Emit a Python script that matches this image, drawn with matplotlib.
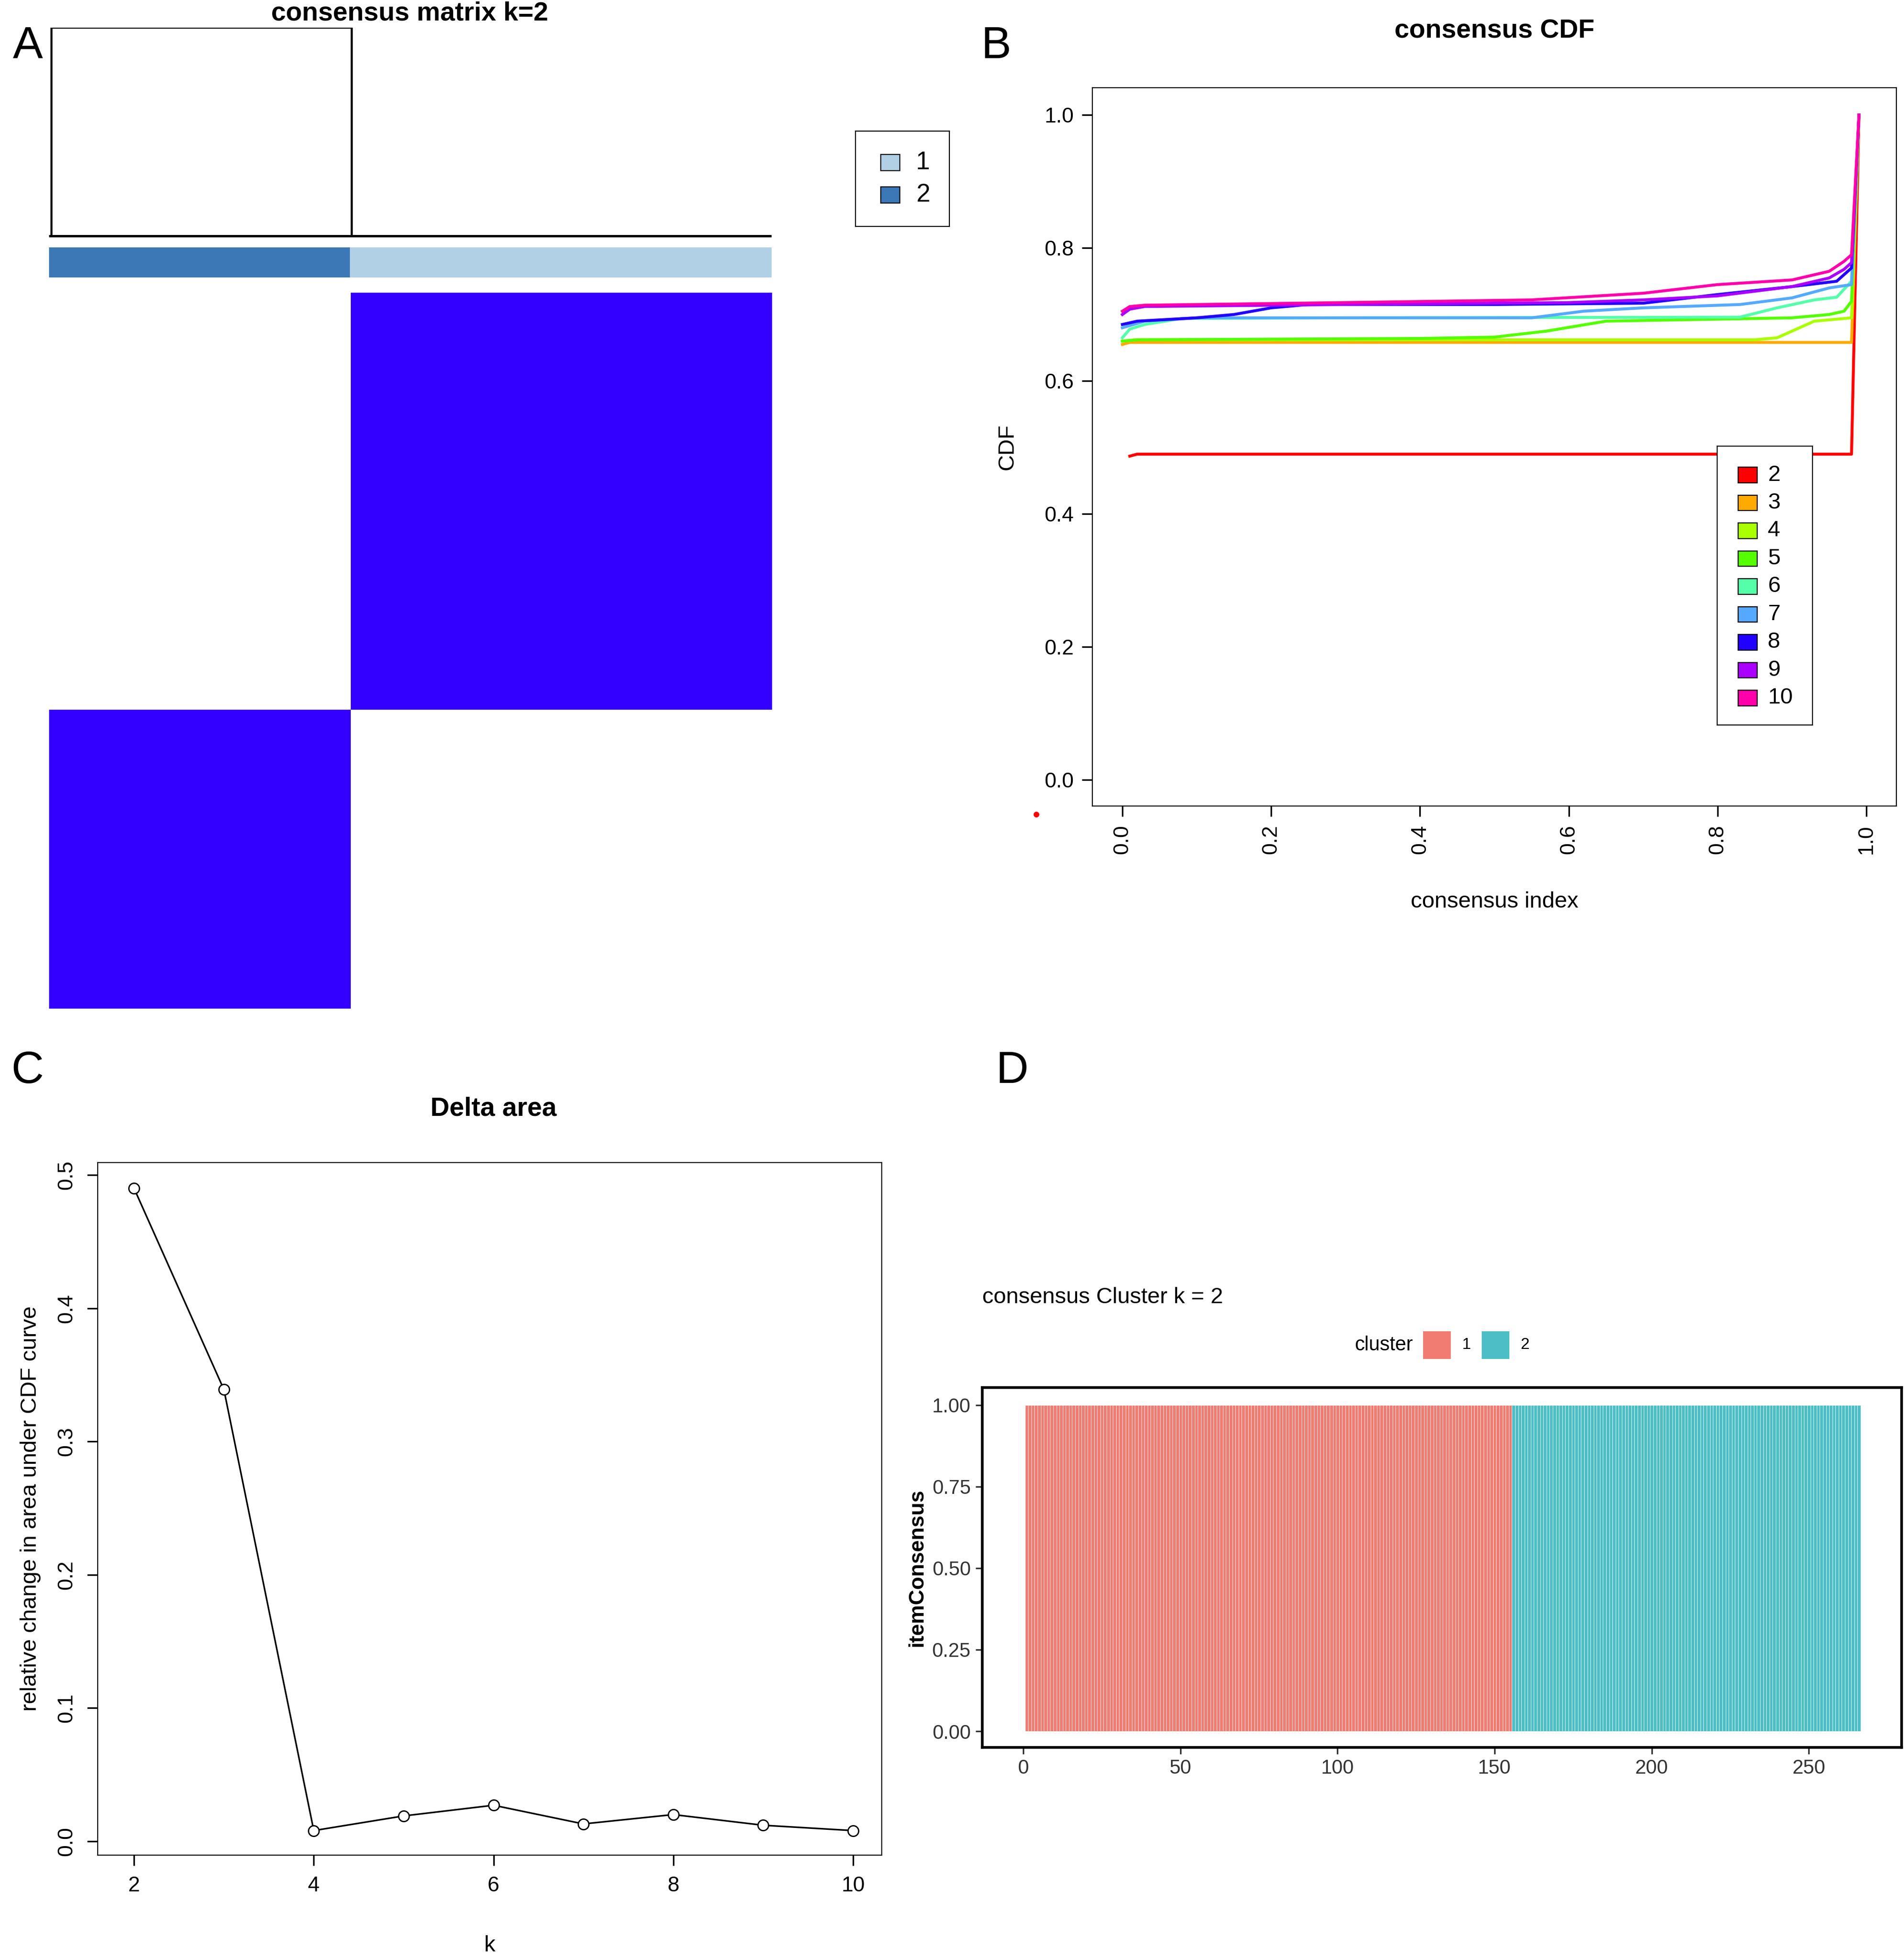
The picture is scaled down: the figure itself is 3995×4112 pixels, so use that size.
import numpy as np
import matplotlib
matplotlib.use("Agg")
import matplotlib.pyplot as plt
from matplotlib.colors import ListedColormap
from matplotlib.patches import Rectangle

plt.rcParams['font.family'] = ['Liberation Sans', 'DejaVu Sans']

# ---------------- data ----------------
n_cluster1 = 155
n_cluster2 = 111
k_values = [2, 3, 4, 5, 6, 7, 8, 9, 10]
delta_area = [0.490, 0.339, 0.008, 0.019, 0.027, 0.013, 0.020, 0.012, 0.008]
cdf_colors = ['#FF0000', '#FFAA00', '#AAFF00', '#55FF00', '#55FFAA', '#55AAFF', '#2200FF', '#AA00FF', '#FF00AA']
cdf_x = {
    2: [0.01, 0.02, 0.98, 0.99],
    3: [0.0, 0.01, 0.98, 0.99],
    4: [0.0, 0.02, 0.85, 0.88, 0.91, 0.93, 0.98, 0.99],
    5: [0.0, 0.02, 0.4, 0.5, 0.57, 0.65, 0.9, 0.95, 0.97, 0.98, 0.99],
    6: [0.0, 0.01, 0.03, 0.08, 0.3, 0.83, 0.88, 0.93, 0.96, 0.98, 0.99],
    7: [0.0, 0.03, 0.1, 0.55, 0.62, 0.7, 0.83, 0.9, 0.95, 0.98, 0.99],
    8: [0.0, 0.02, 0.1, 0.15, 0.2, 0.25, 0.5, 0.7, 0.8, 0.9, 0.96, 0.98, 0.99],
    9: [0.0, 0.01, 0.03, 0.3, 0.6, 0.7, 0.8, 0.9, 0.95, 0.97, 0.98, 0.99],
    10: [0.0, 0.01, 0.03, 0.3, 0.55, 0.7, 0.8, 0.9, 0.95, 0.97, 0.98, 0.99],
}
cdf_y = {
    2: [0.487, 0.49, 0.49, 1.0],
    3: [0.655, 0.658, 0.658, 1.0],
    4: [0.66, 0.662, 0.662, 0.665, 0.68, 0.69, 0.695, 1.0],
    5: [0.66, 0.662, 0.664, 0.666, 0.675, 0.69, 0.695, 0.70, 0.705, 0.72, 1.0],
    6: [0.665, 0.678, 0.685, 0.694, 0.695, 0.696, 0.71, 0.722, 0.726, 0.75, 1.0],
    7: [0.68, 0.69, 0.695, 0.695, 0.705, 0.71, 0.715, 0.725, 0.74, 0.745, 1.0],
    8: [0.685, 0.69, 0.695, 0.70, 0.71, 0.715, 0.715, 0.717, 0.73, 0.742, 0.75, 0.77, 1.0],
    9: [0.70, 0.708, 0.712, 0.715, 0.718, 0.722, 0.728, 0.742, 0.755, 0.768, 0.778, 1.0],
    10: [0.705, 0.712, 0.714, 0.718, 0.722, 0.732, 0.745, 0.752, 0.765, 0.78, 0.79, 1.0],
}
cluster_labels = ['1', '2']
ann_colors = {'1': '#B1D0E6', '2': '#3C77B6'}
gg_colors = ['#F07C72', '#4DBEC5']

W, H = 1520.0, 1568.0
def rect(x0, y0, x1, y1):
    return [x0 / W, 1 - y1 / H, (x1 - x0) / W, (y1 - y0) / H]
def fx(x): return x / W
def fy(y): return 1 - y / H

fig = plt.figure(figsize=(19.975, 20.56), dpi=200)

# ---------------- Panel A ----------------
ax_hm = fig.add_axes(rect(39, 234, 616, 807))
rows = np.array([1] * n_cluster1 + [2] * n_cluster2)
cols = np.array([2] * n_cluster2 + [1] * n_cluster1)
M = (rows[:, None] == cols[None, :]).astype(float)
ax_hm.imshow(M, cmap=ListedColormap(['white', '#3300FF']), aspect='auto', interpolation='nearest')
ax_hm.axis('off')

ax_bar = fig.add_axes(rect(39, 198, 616, 222))
ax_bar.add_patch(Rectangle((0, 0), n_cluster2, 1, color=ann_colors['2']))
ax_bar.add_patch(Rectangle((n_cluster2, 0), n_cluster1, 1, color=ann_colors['1']))
ax_bar.set_xlim(0, n_cluster1 + n_cluster2); ax_bar.set_ylim(0, 1)
ax_bar.axis('off')

ax_den = fig.add_axes(rect(39, 22, 616, 192))
N = n_cluster1 + n_cluster2
ax_den.plot([1, 1, n_cluster2 + 0.5, n_cluster2 + 0.5], [0.02, 1, 1, 0.02], color='black', lw=1.6)
ax_den.plot([0.5, N], [0.02, 0.02], color='black', lw=1.8)
ax_den.set_xlim(0, N); ax_den.set_ylim(0, 1.0)
ax_den.axis('off')
fig.text(fx(327), fy(11), 'consensus matrix k=2', ha='center', va='center', fontsize=20, fontweight='bold')

ax_lg = fig.add_axes(rect(683, 105, 758, 181))
ax_lg.set_xlim(0, 1); ax_lg.set_ylim(0, 1)
ax_lg.set_xticks([]); ax_lg.set_yticks([])
for i, lab in enumerate(cluster_labels):
    yy = 0.67 - i * 0.34
    ax_lg.add_patch(Rectangle((0.27, yy - 0.085), 0.2, 0.17, facecolor=ann_colors[lab], edgecolor='black', lw=0.8))
    ax_lg.text(0.72, yy, lab, ha='center', va='center', fontsize=19)

# ---------------- Panel B ----------------
axB = fig.add_axes(rect(872, 70, 1514, 645))
xpp = (1490 - 896); ypp = (624 - 92)
axB.set_xlim(-(896 - 872) / xpp, 1 + (1514 - 1490) / xpp)
axB.set_ylim(-(645 - 624) / ypp, 1 + (92 - 70) / ypp)
for k, c in zip(k_values, cdf_colors):
    axB.plot(cdf_x[k], cdf_y[k], color=c, lw=2.2, label=str(k))
axB.set_xticks([0, 0.2, 0.4, 0.6, 0.8, 1.0])
axB.set_xticklabels(['0.0', '0.2', '0.4', '0.6', '0.8', '1.0'])
axB.set_yticks([0, 0.2, 0.4, 0.6, 0.8, 1.0])
axB.set_yticklabels(['0.0', '0.2', '0.4', '0.6', '0.8', '1.0'])
axB.tick_params(labelsize=16, length=8, width=1.2, pad=6)
axB.tick_params(axis='x', labelrotation=90)
axB.set_xlabel('consensus index', fontsize=17, labelpad=28)
axB.set_ylabel('CDF', fontsize=17, labelpad=20)
fig.text(fx(1193), fy(25), 'consensus CDF', ha='center', va='center', fontsize=20, fontweight='bold')
lgB = fig.add_axes(rect(1371, 357, 1447, 580))
lgB.set_xlim(0, 1); lgB.set_ylim(0, 1); lgB.set_xticks([]); lgB.set_yticks([])
for i, (k, c) in enumerate(zip(k_values, cdf_colors)):
    yy = 1 - (380 - 357 + i * 22.3) / (580 - 357)
    lgB.add_patch(Rectangle((0.22, yy - 0.028), 0.2, 0.056, facecolor=c, edgecolor='black', lw=0.8))
    lgB.text(0.53, yy, str(k), ha='left', va='center', fontsize=17)
fig.text(fx(827), fy(653), '•', color='red', ha='center', va='center', fontsize=16)

# ---------------- Panel C ----------------
axC = fig.add_axes(rect(78, 930, 704, 1484))
xpp = (681 - 107) / 8.0; ypp = (1473 - 940) / 0.5
axC.set_xlim(2 - (107 - 78) / xpp, 10 + (704 - 681) / xpp)
axC.set_ylim(-(1484 - 1473) / ypp, 0.5 + (940 - 930) / ypp)
axC.plot(k_values, delta_area, color='black', lw=1.2, marker='o', markersize=8,
         markerfacecolor='white', markeredgecolor='black', markeredgewidth=1.0)
axC.set_xticks([2, 4, 6, 8, 10])
axC.set_yticks([0, 0.1, 0.2, 0.3, 0.4, 0.5])
axC.set_yticklabels(['0.0', '0.1', '0.2', '0.3', '0.4', '0.5'], rotation=90, va='center')
axC.tick_params(labelsize=16, length=8, width=1.2, pad=8)
axC.set_xlabel('k', fontsize=17, labelpad=30)
axC.set_ylabel('relative change in area under CDF curve', fontsize=17, labelpad=12)
fig.text(fx(394), fy(887), 'Delta area', ha='center', va='center', fontsize=20, fontweight='bold')

# ---------------- Panel D ----------------
axD = fig.add_axes(rect(784, 1110, 1518, 1398))
assign = [1] * n_cluster1 + [2] * n_cluster2
consensus = [1.0] * N
idx = np.arange(1, N + 1)
for cl, col in zip([1, 2], gg_colors):
    sel = [i for i, a in enumerate(assign) if a == cl]
    axD.bar(idx[sel], [consensus[i] for i in sel], width=1.0, color=col,
            edgecolor='white', linewidth=0.25)
xpp = (1444 - 817) / 250.0
axD.set_xlim(-(817 - 784) / xpp, 250 + (1518 - 1444) / xpp)
ypp = (1385 - 1124) / 1.0
axD.set_ylim(-(1398 - 1385) / ypp, 1 + (1124 - 1110) / ypp)
axD.set_xticks([0, 50, 100, 150, 200, 250])
axD.set_yticks([0, 0.25, 0.5, 0.75, 1.0])
axD.set_yticklabels(['0.00', '0.25', '0.50', '0.75', '1.00'])
axD.tick_params(labelsize=15, length=5, width=1.2, colors='#333333', labelcolor='#333333')
for s in axD.spines.values():
    s.set_linewidth(2.0)
axD.set_ylabel('itemConsensus', fontsize=16, fontweight='bold', labelpad=4)
fig.text(fx(784), fy(1038), 'consensus Cluster k = 2', ha='left', va='center', fontsize=17)
fig.text(fx(1128), fy(1076), 'cluster', ha='right', va='center', fontsize=15)
for i, (lab, col) in enumerate(zip(cluster_labels, gg_colors)):
    x0 = 1136 + i * 47
    fig.patches.append(Rectangle((fx(x0), fy(1087)), 22 / W, 22 / H, transform=fig.transFigure,
                                 facecolor=col, edgecolor='none'))
    fig.text(fx(x0 + 31), fy(1076), lab, ha='left', va='center', fontsize=12)

# ---------------- panel letters ----------------
for lab, x, y in [('A', 22, 37), ('B', 795, 37), ('C', 22, 857), ('D', 808, 857)]:
    fig.text(fx(x), fy(y), lab, ha='center', va='center', fontsize=34)

fig.savefig('out.png', dpi=200)
